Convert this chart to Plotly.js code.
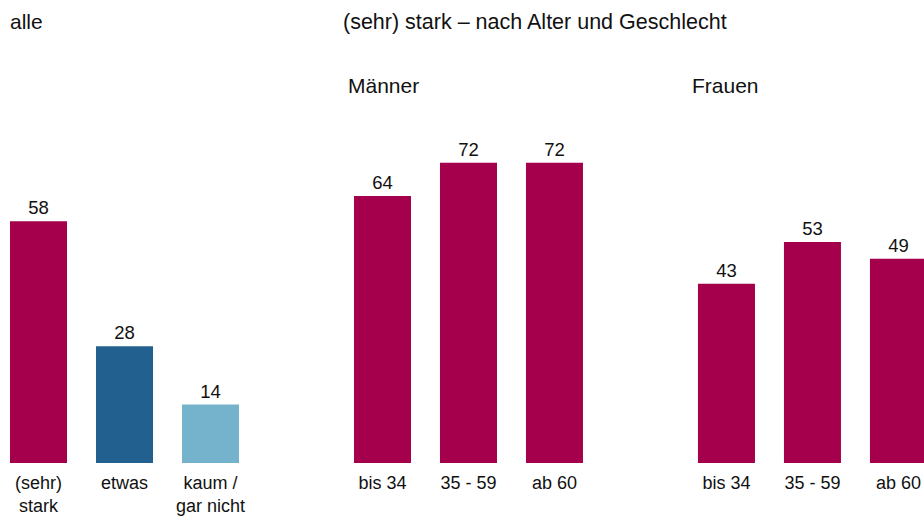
<!DOCTYPE html>
<html>
<head>
<meta charset="utf-8">
<script src="https://cdn.plot.ly/plotly-3.0.1.min.js"></script>
<style>
  body { margin: 0; background: #fff; }
  #chart { width: 924px; height: 516px; }
</style>
</head>
<body>
<div id="chart"></div>
<script>
// alle
const allLabels = ['(sehr)<br>stark', 'etwas', 'kaum /<br>gar nicht'];
const allValues = [58, 28, 14];
const allColors = ['#A5004B', '#22608F', '#74B3CB'];

// (sehr) stark nach Alter
const ageLabels = ['bis 34', '35 - 59', 'ab 60'];
const menValues = [64, 72, 72];
const womenValues = [43, 53, 49];

const crimson = '#A5004B';
const fontFam = 'Arial, "Liberation Sans", sans-serif';

// group start slots on the shared x axis (one empty slot between groups)
const groupStart = [0, 4, 8];
const pos = (g, i) => groupStart[g] + i;

function barTrace(g, labels, values, colors) {
    return {
        type: 'bar',
        x: labels.map((_, i) => pos(g, i)),
        y: values,
        width: 0.663,
        marker: { color: colors },
        text: values.map(String),
        textposition: 'outside',
        textfont: { size: 18.5, color: '#111', family: fontFam },
        cliponaxis: false,
        hoverinfo: 'skip',
        showlegend: false
    };
}

const traces = [
    barTrace(0, allLabels, allValues, allColors),
    barTrace(1, ageLabels, menValues, crimson),
    barTrace(2, ageLabels, womenValues, crimson)
];

const tickvals = [
    ...allLabels.map((_, i) => pos(0, i)),
    ...ageLabels.map((_, i) => pos(1, i)),
    ...ageLabels.map((_, i) => pos(2, i))
];
const ticktext = [...allLabels, ...ageLabels, ...ageLabels];

const W = 924, T = 46, B = 53, H = 516 - T - B;
const py = y => (516 - B - y) / H;

function title(text, x, y, size) {
    return {
        text: text, xref: 'paper', yref: 'paper',
        x: x / W, y: py(y), xanchor: 'left', yanchor: 'middle',
        showarrow: false,
        font: { size: size, color: '#111', family: fontFam }
    };
}

Plotly.newPlot('chart', traces, {
    width: 924,
    height: 516,
    margin: { l: 0, r: 0, t: T, b: B },
    paper_bgcolor: '#fff',
    plot_bgcolor: '#fff',
    font: { family: fontFam, color: '#111' },
    xaxis: {
        range: [-0.4477, 10.297],
        tickvals: tickvals,
        ticktext: ticktext,
        tickfont: { size: 18, color: '#111' },
        showgrid: false,
        zeroline: false,
        showline: false,
        ticks: 'outside',
        ticklen: 3,
        tickcolor: 'rgba(0,0,0,0)'
    },
    yaxis: {
        range: [0, 100],
        visible: false,
        showgrid: false,
        zeroline: false
    },
    annotations: [
        title('alle', 8, 22, 21),
        title('(sehr) stark – nach Alter und Geschlecht', 341, 22, 21.5),
        title('Männer', 346, 86, 21),
        title('Frauen', 690, 86, 21)
    ]
}, { displayModeBar: false, staticPlot: true });
</script>
</body>
</html>
